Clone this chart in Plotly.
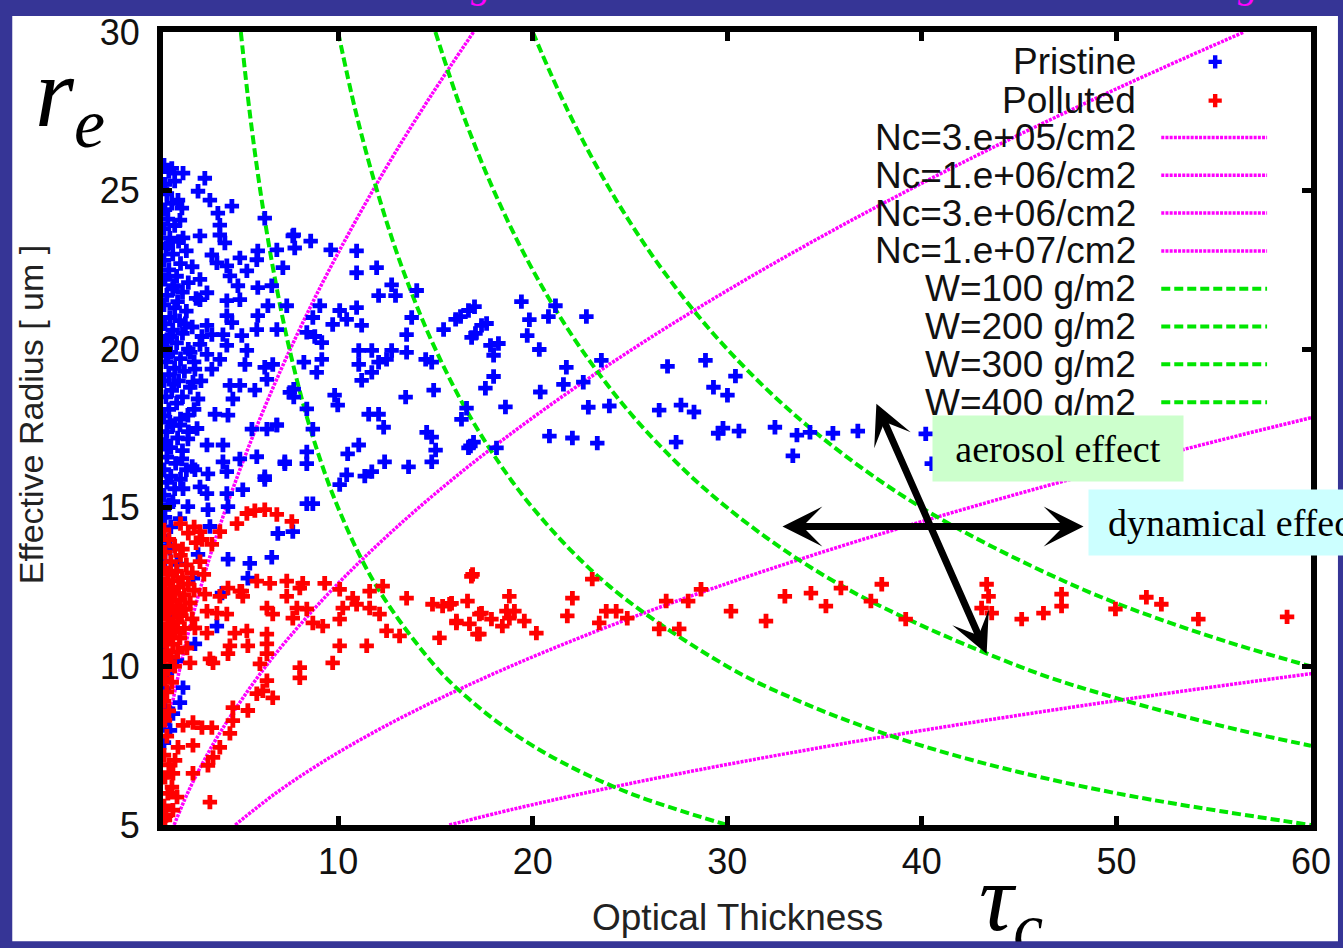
import plotly.graph_objects as go

# ---------------- data ----------------
X_TICKS = [10, 20, 30, 40, 50, 60]
Y_TICKS = [5, 10, 15, 20, 25, 30]

# Pristine cloud samples: (optical thickness, effective radius)
PRISTINE = [
    (1.05, 25.8), (1.3, 25.6), (1.1, 25.2), (1.6, 25.3), (1.2, 24.9), (1.45, 24.6), (1.1, 24.4), (1.25, 24.1),
    (1.6, 23.9), (1.05, 23.8), (1.35, 23.5), (1.8, 23.4), (1.15, 23.2), (2.2, 23.1), (1.5, 23.0), (1.05, 22.8),
    (1.9, 22.7), (2.5, 22.6), (1.3, 22.5), (1.7, 22.3), (1.1, 22.2), (2.3, 22.1), (1.5, 21.9), (2.0, 21.8),
    (1.2, 21.7), (2.7, 21.6), (1.05, 21.4), (1.6, 21.3), (2.2, 21.2), (1.35, 21.0), (1.85, 20.9), (1.1, 20.8),
    (2.5, 20.7), (1.5, 20.6), (2.0, 20.5), (1.2, 20.3), (1.7, 20.2), (1.05, 20.0), (2.3, 20.0), (1.4, 19.9),
    (1.9, 19.7), (1.15, 19.6), (2.6, 19.6), (1.6, 19.4), (2.1, 19.3), (1.3, 19.2), (1.05, 19.0), (1.8, 19.0),
    (2.4, 18.8), (1.45, 18.7), (1.15, 18.5), (2.0, 18.5), (1.7, 18.3), (1.3, 18.1), (2.6, 18.1), (1.05, 17.9),
    (1.9, 17.8), (1.5, 17.6), (1.2, 17.4), (2.3, 17.4), (1.75, 17.2), (1.05, 17.0), (1.4, 16.9), (2.0, 16.8),
    (1.2, 16.6), (1.65, 16.4), (2.5, 16.3), (1.05, 16.2), (1.4, 16.0), (1.9, 15.9), (1.2, 15.8), (1.6, 15.6),
    (1.05, 15.4), (1.3, 15.1), (1.1, 14.7), (1.4, 14.4), (1.05, 14.1), (1.25, 13.8), (1.1, 13.3), (1.05, 12.6),
    (1.2, 12.2), (1.05, 11.8), (1.1, 10.9), (1.05, 10.4), (1.2, 9.8), (1.05, 9.3), (1.1, 8.7), (1.05, 8.2),
    (1.05, 7.6), (1.25, 23.3), (1.55, 22.0), (1.35, 20.4), (1.25, 19.8), (1.55, 18.9), (1.35, 17.7), (1.15, 17.1),
    (2.15, 20.8), (2.4, 19.9), (1.75, 21.5), (2.9, 22.2), (3.0, 20.4), (2.95, 19.0), (2.75, 17.5), (2.2, 16.2),
    (1.45, 25.70), (2.03, 25.55), (3.15, 25.39), (2.80, 24.98), (3.41, 24.70), (1.77, 24.70), (1.97, 24.45),
    (3.82, 24.29), (4.54, 24.51), (1.87, 24.07), (3.92, 23.91), (3.92, 23.60), (4.18, 23.35), (2.90, 23.57),
    (2.03, 23.51), (4.95, 22.88), (5.87, 23.10), (6.23, 24.13), (5.82, 22.82), (3.51, 22.97), (3.77, 22.72),
    (4.28, 22.63), (4.44, 22.31), (5.31, 22.47), (4.85, 22.00), (5.87, 21.94), (6.59, 22.00), (7.67, 23.57),
    (6.85, 23.13), (7.16, 22.57), (3.26, 21.78), (2.90, 21.56), (4.95, 21.56), (4.28, 21.53), (4.28, 21.06),
    (5.87, 21.06), (6.39, 21.37), (7.36, 21.37), (4.54, 20.84), (3.26, 20.75), (3.51, 20.46), (4.08, 20.46),
    (5.05, 20.43), (5.82, 20.62), (6.85, 20.62), (2.90, 20.15), (4.28, 20.12), (5.31, 19.96), (3.92, 19.68),
    (3.26, 19.84), (2.64, 19.37), (3.51, 19.37), (5.21, 19.52), (6.23, 19.43), (6.64, 19.52), (2.54, 18.96),
    (4.44, 18.86), (4.95, 18.86), (5.72, 18.71), (6.34, 19.05), (7.52, 18.64), (2.80, 18.43), (4.59, 18.43),
    (3.67, 17.95), (4.34, 17.92), (5.57, 17.48), (6.34, 17.48), (6.85, 17.61), (2.28, 17.92), (1.87, 17.61),
    (3.26, 16.98), (4.08, 16.98), (2.28, 17.17), (4.08, 16.45), (4.95, 16.54), (5.82, 16.61), (1.97, 16.54),
    (2.64, 16.20), (3.31, 16.07), (4.28, 16.14), (7.26, 16.45), (6.23, 15.98),
    (7.72, 23.60), (8.59, 23.41), (9.62, 23.13), (7.77, 23.19), (10.95, 23.10), (10.95, 22.41), (11.98, 22.57),
    (12.75, 22.03), (12.95, 21.69), (12.08, 21.69), (14.04, 21.85), (9.06, 21.37), (10.08, 21.22), (10.44, 20.94),
    (10.95, 21.31), (8.70, 21.00), (9.72, 20.78), (11.21, 20.75), (8.39, 20.53), (9.16, 20.21), (8.80, 20.40),
    (11.06, 19.96), (11.73, 19.96), (12.75, 19.96), (13.52, 20.46), (13.78, 21.00), (13.52, 19.90), (14.50, 19.68),
    (14.81, 19.59), (15.42, 20.62), (16.04, 20.94), (16.70, 21.22), (16.86, 20.37), (17.37, 20.75), (11.06, 19.52),
    (12.08, 19.59), (12.49, 19.68), (11.73, 19.27), (11.21, 19.02), (8.24, 19.59), (9.16, 19.68), (8.90, 19.27),
    (9.82, 18.55), (9.98, 18.24), (7.72, 18.74), (7.72, 18.49), (8.39, 18.12), (11.57, 17.95), (12.08, 17.95),
    (12.34, 17.54), (13.47, 18.49), (14.91, 18.71), (14.55, 17.38), (14.81, 17.23), (15.01, 16.82), (16.34, 17.79),
    (16.80, 16.95), (17.57, 18.77), (14.81, 16.45), (13.62, 16.29), (12.39, 16.45), (11.73, 16.14), (11.37, 16.00),
    (10.44, 16.04), (10.08, 15.73), (11.06, 16.98), (10.49, 16.70), (8.70, 17.48), (8.39, 16.76), (8.39, 16.39),
    (7.26, 16.39), (6.23, 15.89), (6.85, 17.61),
    (16.29, 21.03), (17.01, 21.34), (17.63, 20.81), (17.06, 20.50), (17.83, 20.12), (18.24, 20.18),
    (17.99, 19.81), (19.42, 21.50), (19.83, 20.93), (20.81, 21.03), (21.17, 21.37), (22.76, 21.03), (19.72, 20.43),
    (20.34, 19.99), (17.99, 19.14), (21.73, 19.43), (21.58, 18.89), (22.60, 18.96), (20.39, 18.65), (18.60, 18.18),
    (16.60, 18.14), (22.86, 18.17), (23.94, 18.21), (23.53, 19.65), (20.86, 17.26), (22.04, 17.20), (23.32, 17.04),
    (16.96, 17.07), (16.70, 16.89), (18.14, 16.89), (26.93, 19.46), (28.88, 19.65), (30.42, 19.15), (29.29, 18.80),
    (30.01, 18.55), (26.50, 18.08), (27.62, 18.24), (28.29, 18.02), (27.37, 17.07), (29.78, 17.51), (29.53, 17.35),
    (30.60, 17.42), (32.45, 17.54), (33.58, 17.29), (33.37, 16.64), (34.25, 17.38), (35.43, 17.35), (36.71, 17.42),
    (40.20, 17.33), (40.51, 16.39),
    (2.03, 15.60), (2.90, 15.66), (3.26, 15.45), (3.31, 14.94), (2.28, 15.04), (1.51, 15.19), (1.87, 14.66),
    (3.41, 14.41), (4.28, 15.45), (5.10, 15.57), (4.34, 15.04), (6.90, 14.19), (7.67, 14.25), (8.39, 15.13),
    (8.70, 15.13), (5.46, 13.25), (6.59, 13.44), (5.36, 12.78), (4.34, 13.38), (4.03, 12.31), (3.77, 11.27),
    (2.80, 13.53), (2.54, 12.78), (1.72, 13.22), (1.36, 13.72), (1.46, 11.65), (2.64, 10.71), (1.72, 10.18),
    (1.36, 11.21), (1.87, 8.86), (1.51, 8.51), (2.03, 9.33), (1.36, 7.98),
]

# Polluted cloud samples: (optical thickness, effective radius)
POLLUTED = [
    (1.05, 14.3), (1.3, 14.0), (1.6, 13.8), (1.1, 13.6), (1.9, 13.5), (1.4, 13.3), (2.2, 13.2), (1.05, 13.1),
    (1.7, 13.0), (2.5, 12.95), (1.25, 12.9), (2.0, 12.8), (1.5, 12.7), (1.1, 12.6), (2.3, 12.6), (1.8, 12.5),
    (1.35, 12.45), (2.6, 12.4), (1.05, 12.35), (1.6, 12.3), (2.1, 12.25), (1.2, 12.2), (1.9, 12.1), (1.45, 12.05),
    (2.4, 12.0), (1.1, 11.95), (1.7, 11.9), (1.3, 11.8), (2.15, 11.8), (1.55, 11.7), (1.05, 11.65), (1.95, 11.6),
    (1.25, 11.5), (2.5, 11.5), (1.75, 11.4), (1.4, 11.3), (1.1, 11.2), (2.1, 11.2), (1.6, 11.1), (1.3, 10.95),
    (1.85, 10.9), (1.05, 10.8), (1.5, 10.7), (1.2, 10.5), (1.75, 10.45), (1.4, 10.3), (1.05, 10.2), (1.6, 10.0),
    (1.25, 9.9), (1.1, 9.6), (1.45, 9.5), (1.2, 9.2), (1.05, 8.9), (1.3, 8.6), (1.1, 8.3), (1.2, 7.8),
    (1.05, 7.2), (1.3, 6.9), (1.1, 6.5), (1.25, 6.0), (1.05, 5.6), (1.15, 5.3), (2.7, 13.9), (2.9, 13.3),
    (3.1, 12.9), (2.3, 14.2), (1.9, 14.5), (2.6, 14.4), (3.0, 14.0), (2.0, 13.7),
    (4.80, 14.50), (5.31, 14.82), (5.72, 14.91), (6.23, 14.94), (6.85, 14.79), (7.62, 14.57), (3.92, 14.25),
    (3.51, 13.85), (2.90, 14.25),
    (4.95, 12.37), (5.82, 12.69), (6.49, 12.62), (7.36, 12.69), (8.18, 12.62), (9.31, 12.62), (10.08, 12.43),
    (5.10, 12.21), (7.36, 12.21), (8.03, 12.47), (6.34, 11.84), (6.64, 11.65), (7.88, 11.84), (8.39, 11.81),
    (7.67, 11.52), (8.70, 11.37), (9.21, 11.27), (10.24, 11.84), (10.75, 12.15), (10.95, 11.96), (10.08, 11.49),
    (11.62, 12.37), (12.29, 12.53), (11.62, 11.84), (12.13, 11.65), (12.49, 11.12), (13.16, 10.96), (13.52, 12.15),
    (14.85, 11.96), (15.37, 11.90), (15.83, 11.99), (16.65, 12.06), (16.85, 12.84), (16.08, 11.37), (16.75, 11.34),
    (17.26, 11.65), (17.16, 11.02), (15.21, 10.90), (4.69, 11.05), (5.31, 11.12), (6.34, 11.02), (6.34, 10.71),
    (5.36, 10.65), (4.44, 10.65), (4.34, 10.40), (6.34, 10.40), (5.98, 10.08), (3.57, 10.11), (10.08, 10.65),
    (11.47, 10.65), (9.72, 10.11), (8.03, 9.96), (8.03, 9.64), (6.34, 9.55), (6.13, 9.23), (5.82, 9.14),
    (6.64, 9.01), (4.59, 8.70), (5.36, 8.61), (4.59, 8.29), (4.44, 7.89), (2.03, 8.14), (2.54, 8.23),
    (3.00, 8.07), (3.51, 8.07), (2.54, 7.51), (3.92, 7.45), (3.57, 7.13), (3.31, 6.88), (2.54, 6.63),
    (1.77, 7.45), (1.62, 7.04), (1.51, 6.63), (1.46, 6.19), (1.72, 5.88), (3.41, 5.72), (1.51, 5.47), (1.10, 5.16),
    (3.26, 11.74), (3.77, 11.68), (4.28, 11.65), (3.15, 12.28), (3.92, 12.21), (4.34, 12.47), (5.05, 12.37),
    (2.64, 11.21), (3.26, 11.05), (1.87, 10.90), (2.23, 10.58), (3.41, 10.24), (2.39, 10.11),
    (16.91, 12.90), (15.73, 11.96), (17.37, 11.68), (16.08, 11.43), (17.26, 11.02), (17.88, 11.49),
    (18.80, 12.21), (18.65, 11.74), (19.06, 11.74), (18.44, 11.27), (18.80, 11.52), (19.57, 11.43), (20.19, 11.05),
    (22.04, 12.15), (21.78, 11.59), (23.06, 12.75), (23.42, 11.37), (23.78, 11.74), (24.29, 11.74), (24.86, 11.52),
    (26.50, 11.18), (26.86, 12.06), (27.53, 11.18), (27.99, 12.06), (28.65, 12.43), (30.19, 11.74), (31.99, 11.43),
    (32.96, 12.21), (34.30, 12.31), (35.07, 11.90), (35.84, 12.47), (37.38, 12.06), (37.94, 12.59),
    (39.17, 11.49), (43.33, 12.59), (43.43, 12.21), (43.07, 11.84), (43.59, 11.68), (45.13, 11.49), (46.25, 11.68),
    (47.18, 12.28), (47.18, 11.90), (49.95, 11.81), (51.54, 12.18), (52.31, 11.96), (54.21, 11.49), (58.77, 11.56),
]

# Constant droplet-column-number curves (optical thickness, effective radius)
NC_LABELS = ["Nc=3.e+05/cm2", "Nc=1.e+06/cm2", "Nc=3.e+06/cm2", "Nc=1.e+07/cm2"]
NC_CURVES = [
    [(0.47, 5), (0.68, 6), (0.92, 7), (1.21, 8), (1.89, 10), (2.71, 12), (3.69, 14), (4.83, 16), (6.11, 18),
     (7.54, 20), (9.12, 22), (10.86, 24), (12.74, 26), (14.78, 28), (16.96, 30)],
    [(1.57, 5), (2.26, 6), (3.08, 7), (4.02, 8), (6.28, 10), (9.05, 12), (12.32, 14), (16.08, 16), (20.36, 18),
     (25.13, 20), (30.41, 22), (36.19, 24), (42.47, 26), (49.26, 28), (56.55, 30)],
    [(4.71, 5), (6.79, 6), (9.24, 7), (12.06, 8), (15.27, 9), (18.85, 10), (22.81, 11), (27.14, 12), (31.86, 13),
     (36.95, 14), (42.41, 15), (48.25, 16), (54.48, 17), (61.07, 18)],
    [(15.71, 5), (19.01, 5.5), (22.62, 6), (26.55, 6.5), (30.79, 7), (35.34, 7.5), (40.21, 8), (45.40, 8.5),
     (50.89, 9), (56.71, 9.5), (62.83, 10)],
]

# Constant liquid-water-path curves (optical thickness, effective radius)
W_LABELS = ["W=100 g/m2", "W=200 g/m2", "W=300 g/m2", "W=400 g/m2"]
W_CURVES = [
    [(5.0, 30), (5.45, 27.5), (6.0, 25), (6.67, 22.5), (7.5, 20), (8.57, 17.5), (10.0, 15), (12.0, 12.5),
     (15.0, 10), (16.67, 9), (18.75, 8), (21.43, 7), (25.0, 6), (30.0, 5)],
    [(10.0, 30), (10.9, 27.5), (12.0, 25), (13.33, 22.5), (15.0, 20), (17.14, 17.5), (20.0, 15), (24.0, 12.5),
     (30.0, 10), (33.33, 9), (37.5, 8), (42.86, 7), (50.0, 6), (60.0, 5)],
    [(15.0, 30), (16.36, 27.5), (18.0, 25), (20.0, 22.5), (22.5, 20), (25.71, 17.5), (30.0, 15), (36.0, 12.5),
     (45.0, 10), (50.0, 9), (56.25, 8), (60.0, 7.5)],
    [(20.0, 30), (21.82, 27.5), (24.0, 25), (26.67, 22.5), (30.0, 20), (34.29, 17.5), (40.0, 15), (48.0, 12.5),
     (54.55, 11), (60.0, 10)],
]

# ---------------- styling / layout ----------------
W_FIG, H_FIG = 1343, 948
PLOT_L, PLOT_R, PLOT_T, PLOT_B = 163, 1313, 28, 825
BG_BLUE = "#363596"
MAGENTA = "#ff00ff"
GREEN = "#00e600"
SANS = "Liberation Sans, Arial, sans-serif"
SERIF = "Liberation Serif, Times New Roman, serif"
NC_LINE = dict(color=MAGENTA, width=3.5, dash="3px,1.2px")
W_LINE = dict(color=GREEN, width=4, dash="9px,4px")


def px(x):
    return (x - PLOT_L) / (PLOT_R - PLOT_L)


def py(y):
    return (PLOT_B - y) / (PLOT_B - PLOT_T)


fig = go.Figure()

for lab, pts in zip(NC_LABELS, NC_CURVES):
    fig.add_trace(go.Scatter(
        x=[p[0] for p in pts], y=[p[1] for p in pts], mode="lines", name=lab,
        line=dict(shape="spline", **NC_LINE), showlegend=False))

for lab, pts in zip(W_LABELS, W_CURVES):
    fig.add_trace(go.Scatter(
        x=[p[0] for p in pts], y=[p[1] for p in pts], mode="lines", name=lab,
        line=dict(shape="spline", **W_LINE), showlegend=False))

fig.add_trace(go.Scatter(
    x=[p[0] for p in PRISTINE], y=[p[1] for p in PRISTINE], mode="markers", name="Pristine",
    marker=dict(symbol="cross", size=12, color="#0000ff", line=dict(width=0)), showlegend=False))
fig.add_trace(go.Scatter(
    x=[p[0] for p in POLLUTED], y=[p[1] for p in POLLUTED], mode="markers", name="Polluted",
    marker=dict(symbol="cross", size=12, color="#ff0000", line=dict(width=0)), showlegend=False))

# ---------- gnuplot-style key (text right-aligned, sample on the right) ----------
KEY_ROWS = [58, 97, 134, 172, 210, 248, 286, 324, 362, 400]
KEY_TEXT_X = 1140
KEY_SAMPLE = (1163, 1269)
KEY_MARK_X = 1217
key_labels = ["Pristine", "Polluted"] + NC_LABELS + W_LABELS

fig.add_trace(go.Scatter(x=[px(KEY_MARK_X)], y=[py(KEY_ROWS[0])], xaxis="x2", yaxis="y2", mode="markers",
                         marker=dict(symbol="cross", size=11, color="#0000ff"), showlegend=False,
                         hoverinfo="skip"))
fig.add_trace(go.Scatter(x=[px(KEY_MARK_X)], y=[py(KEY_ROWS[1])], xaxis="x2", yaxis="y2", mode="markers",
                         marker=dict(symbol="cross", size=11, color="#ff0000"), showlegend=False,
                         hoverinfo="skip"))
for i in range(4):
    r = KEY_ROWS[2 + i]
    fig.add_trace(go.Scatter(x=[px(KEY_SAMPLE[0]), px(KEY_SAMPLE[1])], y=[py(r), py(r)], xaxis="x2", yaxis="y2",
                             mode="lines", line=NC_LINE, showlegend=False, hoverinfo="skip"))
for i in range(4):
    r = KEY_ROWS[6 + i]
    fig.add_trace(go.Scatter(x=[px(KEY_SAMPLE[0]), px(KEY_SAMPLE[1])], y=[py(r), py(r)], xaxis="x2", yaxis="y2",
                             mode="lines", line=W_LINE, showlegend=False, hoverinfo="skip"))

annotations = []
for lab, r in zip(key_labels, KEY_ROWS):
    annotations.append(dict(x=px(KEY_TEXT_X), y=py(r), xref="paper", yref="paper", text=lab, showarrow=False,
                            xanchor="right", yanchor="middle", font=dict(family=SANS, size=37, color="#111111")))

# axis titles
annotations.append(dict(x=px(31), y=py(412), xref="paper", yref="paper", text="Effective Radius [ um ]",
                        textangle=-90, showarrow=False, xanchor="center", yanchor="middle",
                        font=dict(family=SANS, size=34, color="#222222")))
annotations.append(dict(x=px(739), y=py(918), xref="paper", yref="paper", text="Optical Thickness",
                        showarrow=False, xanchor="center", yanchor="middle",
                        font=dict(family=SANS, size=37, color="#222222")))

# big math labels
annotations.append(dict(x=px(33), y=py(96), xref="paper", yref="paper",
                        text="<i>r</i><sub><i>e</i></sub>", showarrow=False, xanchor="left", yanchor="middle",
                        font=dict(family=SERIF, size=100, color="#000000")))
annotations.append(dict(x=px(978), y=py(905), xref="paper", yref="paper",
                        text="<i>τ</i><sub><i>c</i></sub>", showarrow=False, xanchor="left", yanchor="middle",
                        font=dict(family=SERIF, size=96, color="#000000")))

# arrows
annotations.append(dict(x=48.31, y=14.41, ax=32.76, ay=14.41, xref="x", yref="y", axref="x", ayref="y",
                        text="", showarrow=True, arrowhead=3, startarrowhead=3, arrowside="end+start",
                        arrowwidth=7, arrowsize=0.95, startarrowsize=0.95, arrowcolor="#000000"))
annotations.append(dict(x=43.33, y=10.40, ax=37.63, ay=18.33, xref="x", yref="y", axref="x", ayref="y",
                        text="", showarrow=True, arrowhead=3, startarrowhead=3, arrowside="end+start",
                        arrowwidth=7, arrowsize=0.95, startarrowsize=0.95, arrowcolor="#000000"))

# labelled boxes
annotations.append(dict(x=px(933), y=py(446.5), xref="paper", yref="paper", text="aerosol effect",
                        showarrow=False, xanchor="left", yanchor="middle", width=250, height=65,
                        bgcolor="#ccffcc", borderpad=0, align="center",
                        font=dict(family=SERIF, size=38, color="#000000")))
annotations.append(dict(x=px(1090), y=py(520.5), xref="paper", yref="paper",
                        text="\u00a0\u00a0dynamical effect",
                        showarrow=False, xanchor="left", yanchor="middle", width=320, height=65,
                        bgcolor="#ccffff", borderpad=0, align="left",
                        font=dict(family=SERIF, size=38, color="#000000")))

# fragments of the slide title cut off at the top edge
for gx in (482, 1250):
    annotations.append(dict(x=px(gx), y=py(4), xref="paper", yref="paper", text="<i>g</i>", showarrow=False,
                            xanchor="center", yanchor="bottom", font=dict(family=SERIF, size=40, color=MAGENTA)))

# bottom dark strip drawn over the tau label
annotations.append(dict(x=px(0), y=py(942), xref="paper", yref="paper", text=" ", showarrow=False,
                        xanchor="left", yanchor="top", width=W_FIG, height=8, bgcolor=BG_BLUE, borderpad=0,
                        font=dict(size=4)))

shapes = [dict(type="rect", xref="paper", yref="paper", x0=px(12), x1=px(1340), y0=py(942), y1=py(12),
               fillcolor="#ffffff", line=dict(width=0), layer="below")]

axis_common = dict(showgrid=False, zeroline=False, showline=True, linecolor="#000000", linewidth=6,
                   mirror="ticks", ticks="inside", ticklen=9, tickwidth=5, tickcolor="#000000",
                   tickfont=dict(family=SANS, size=36, color="#111111"))

fig.update_layout(
    width=W_FIG, height=H_FIG,
    margin=dict(l=PLOT_L, r=W_FIG - PLOT_R, t=PLOT_T, b=H_FIG - PLOT_B, pad=0),
    paper_bgcolor=BG_BLUE, plot_bgcolor="#ffffff",
    xaxis=dict(range=[1, 60], tickvals=X_TICKS, ticktext=[str(v) for v in X_TICKS], **axis_common),
    yaxis=dict(range=[5, 30], tickvals=Y_TICKS, ticktext=[str(v) for v in Y_TICKS], ticklabelstandoff=10,
               **axis_common),
    xaxis2=dict(range=[0, 1], overlaying="x", visible=False, fixedrange=True),
    yaxis2=dict(range=[0, 1], overlaying="y", visible=False, fixedrange=True),
    annotations=annotations,
    shapes=shapes,
    showlegend=False,
)

fig.write_html("out.html", config={"displayModeBar": False},
               post_script="document.body.style.margin='0';document.body.style.overflow='hidden';")
